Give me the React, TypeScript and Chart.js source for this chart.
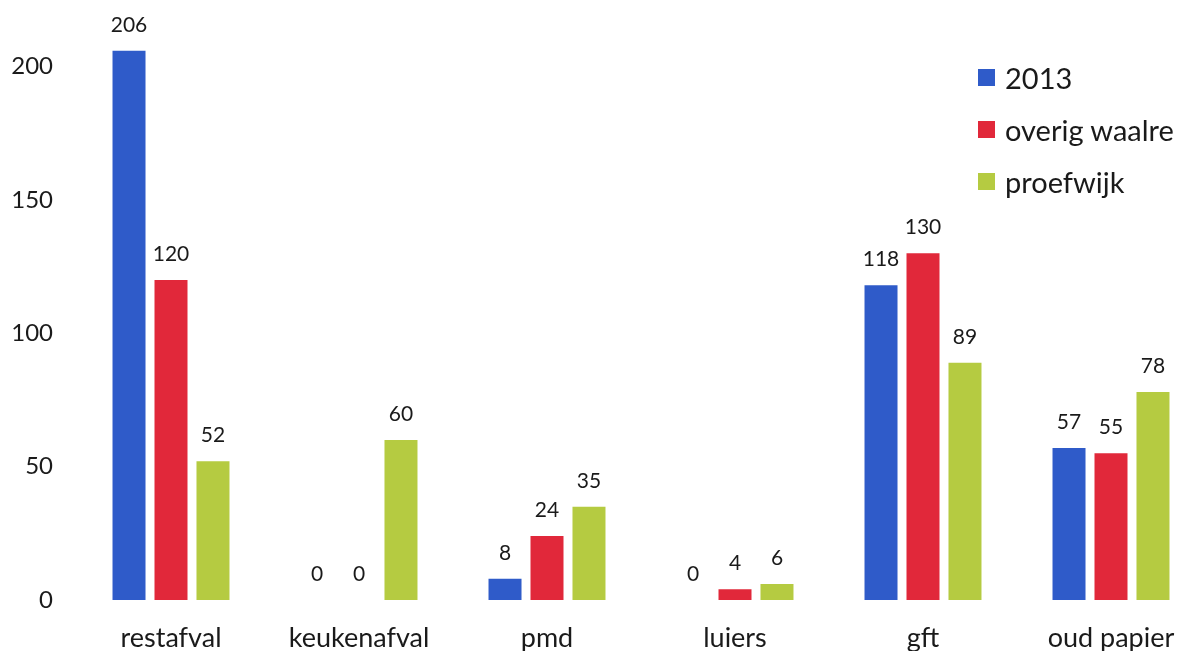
import React, { useEffect, useRef } from "react";
import { Chart, registerables } from "chart.js";

Chart.register(...registerables);

const categories = ["restafval", "keukenafval", "pmd", "luiers", "gft", "oud papier"];
const series2013 = [206, 0, 8, 0, 118, 57];
const seriesOverig = [120, 0, 24, 4, 130, 55];
const seriesProef = [52, 60, 35, 6, 89, 78];
const seriesNames = ["2013", "overig waalre", "proefwijk"];
const seriesColors = ["#2F5BC9", "#E1283A", "#B5CB41"];
const yTicks = [0, 50, 100, 150, 200];

const FONT = "Lato, 'Noto Sans', sans-serif";

const valueLabels = {
  id: "valueLabels",
  afterDatasetsDraw(chart: any) {
    const ctx = chart.ctx;
    ctx.save();
    ctx.font = `21px ${FONT}`;
    ctx.fillStyle = "#1a1a1a";
    ctx.textAlign = "center";
    ctx.textBaseline = "alphabetic";
    chart.data.datasets.forEach((ds: any, i: number) => {
      const meta = chart.getDatasetMeta(i);
      meta.data.forEach((bar: any, j: number) => {
        ctx.fillText(String(ds.data[j]), bar.x, bar.y - 19);
      });
    });
    ctx.restore();
  },
};

export default function App() {
  const ref = useRef<HTMLCanvasElement | null>(null);
  useEffect(() => {
    if (!ref.current) return;
    const data = [series2013, seriesOverig, seriesProef];
    const chart = new Chart(ref.current, {
      type: "bar",
      data: {
        labels: categories,
        datasets: data.map((d, i) => ({
          label: seriesNames[i],
          data: d,
          backgroundColor: seriesColors[i],
          barPercentage: 0.786,
          categoryPercentage: 0.67,
        })),
      },
      options: {
        responsive: false,
        animation: false,
        layout: { padding: 0, autoPadding: false },
        plugins: { legend: { display: false }, tooltip: { enabled: false } },
        scales: {
          x: {
            grid: { display: false, drawTicks: false },
            border: { display: false },
            afterFit: (scale: any) => {
              scale.height = 51;
              scale.paddingLeft = 0;
              scale.paddingRight = 0;
            },
            ticks: { color: "#1a1a1a", font: { family: FONT, size: 27 }, padding: 22, maxRotation: 0 },
          },
          y: {
            min: 0,
            max: 225,
            grid: { display: false, drawTicks: false },
            border: { display: false },
            afterBuildTicks: (scale: any) => {
              scale.ticks = yTicks.map((v) => ({ value: v }));
            },
            afterFit: (scale: any) => {
              scale.width = 77;
              scale.paddingTop = 0;
              scale.paddingBottom = 0;
            },
            ticks: { color: "#1a1a1a", font: { family: FONT, size: 24 }, padding: 24 },
          },
        },
      },
      plugins: [valueLabels],
    });
    return () => chart.destroy();
  }, []);

  return (
    <div style={{ position: "fixed", left: 0, top: 0, width: 1181, height: 651, overflow: "hidden", background: "#fff" }}>
      <canvas ref={ref} width={1205} height={651} style={{ display: "block" }} />
      <div style={{ position: "absolute", left: 978, top: 51, fontFamily: FONT, fontSize: 29, color: "#1a1a1a" }}>
        {seriesNames.map((n, i) => (
          <div key={n} style={{ display: "flex", alignItems: "center", height: 52 }}>
            <span style={{ display: "inline-block", width: 17, height: 17, background: seriesColors[i], marginRight: 10 }} />
            <span>{n}</span>
          </div>
        ))}
      </div>
    </div>
  );
}
